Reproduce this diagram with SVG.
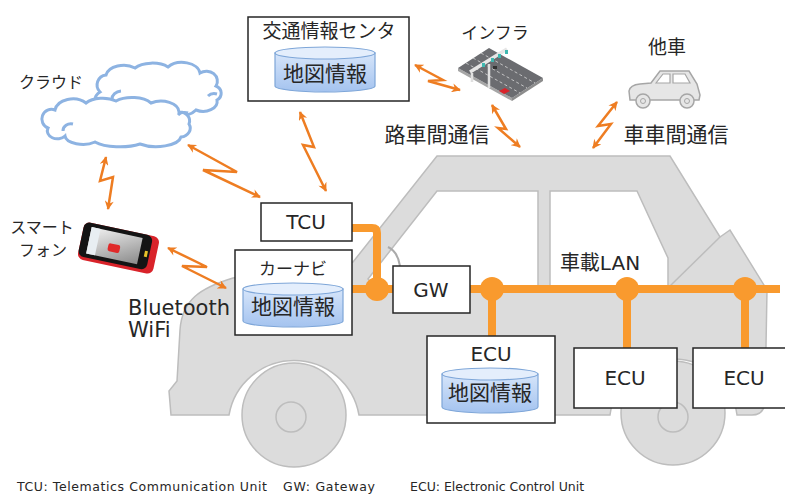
<svg xmlns="http://www.w3.org/2000/svg" width="785" height="497" viewBox="0 0 785 497">
  <defs>
    <style>
      text { font-family: "DejaVu Sans", "Noto Sans CJK JP", sans-serif; fill: #262626; }
      .mid { text-anchor: middle; }
      .box { fill: #ffffff; stroke: #262626; stroke-width: 1.5; }
      .body { fill: #dcdcdc; stroke: #bdbdbd; stroke-width: 1.5; }
      .win { fill: #ffffff; stroke: #bdbdbd; stroke-width: 1.5; }
      .cloud { fill: #ffffff; stroke: #8db3e2; stroke-width: 3; }
      .cloudline { fill: none; stroke: #8db3e2; stroke-width: 3; }
      .bolt { fill: none; stroke: #ee7d22; stroke-width: 2.5; stroke-linejoin: miter; marker-start: url(#bolt-head); marker-end: url(#bolt-head); }
      .lan { fill: none; stroke: #f99a2e; stroke-width: 8; }
      .node { fill: #f99a2e; }
      .cyl-body { fill: url(#cyl-grad); stroke: #7ea6d8; stroke-width: 1.2; }
      .cyl-top { fill: #e4eefc; stroke: #7ea6d8; stroke-width: 1.2; }
    </style>
    <linearGradient id="cyl-grad" x1="0" y1="0" x2="0" y2="1">
      <stop offset="0" stop-color="#d6e5fa"/>
      <stop offset="1" stop-color="#a4c3ef"/>
    </linearGradient>
    <linearGradient id="screen-grad" x1="0" y1="0" x2="1" y2="1">
      <stop offset="0" stop-color="#f4f4f4"/>
      <stop offset="1" stop-color="#8a8a8a"/>
    </linearGradient>
    <marker id="bolt-head" viewBox="0 0 10 10" refX="9" refY="5" markerWidth="10" markerHeight="9" markerUnits="userSpaceOnUse" orient="auto-start-reverse">
      <path d="M0,0 L10,5 L0,10 L3,5 Z" fill="#ee7d22"/>
    </marker>
  </defs>

  <!-- vehicle silhouette -->
  <g id="vehicle">
    <path class="body" d="M 171,415 L 169,391 L 177,381 L 180,330 C 182,300 200,288 233,278 L 353,262 L 437,156 L 670,156 L 720,237 L 730,230 L 767,290 L 765,402 Q 764,415 752,415 L 737,415 A 64,64 0 0 0 610,415 L 359,415 A 66,66 0 0 0 229,415 Z"/>
    <path class="win" d="M 437,191 L 538,191 L 538,289 L 378,289 L 368,279 Z"/>
    <path class="win" d="M 550,191 L 637,191 L 668,258 L 668,289 L 550,289 Z"/>
    <path d="M 669,287 L 720,237" fill="none" stroke="#bdbdbd" stroke-width="1.5"/>
    <path d="M 388,247 Q 398,252 400,266" fill="none" stroke="#aaaaaa" stroke-width="2"/>
    <circle class="body" cx="294" cy="415" r="52"/>
    <circle class="body" cx="291" cy="417" r="15"/>
    <circle class="body" cx="673" cy="413" r="52"/>
    <circle class="body" cx="673" cy="417" r="15"/>
  </g>

  <!-- cloud -->
  <g id="cloud">
    <path class="cloud" d="M 100,92 A 10,10 0 0 1 106,75 A 18,12 0 0 1 135,68 A 20,10 0 0 1 168,67 A 18,12 0 0 1 200,73 A 11,10 0 0 1 216,86 A 9,8 0 0 1 217,100 A 14,10 0 0 1 196,110 A 25,10 0 0 1 150,111 L 120,108 A 14,10 0 0 1 100,92 Z"/>
    <path class="cloud" d="M 48,128 A 9,9 0 0 1 55,110 A 18,13 0 0 1 86,103 A 20,11 0 0 1 116,101 A 22,11 0 0 1 151,103 A 18,11 0 0 1 179,112 A 10,9 0 0 1 189,124 A 11,9 0 0 1 181,137 A 25,11 0 0 1 140,144 A 30,11 0 0 1 95,142 A 18,9 0 0 1 65,136 A 10,8 0 0 1 48,128 Z"/>
    <path class="cloudline" d="M 112,99 A 10,8 0 0 1 121,91"/>
    <path class="cloudline" d="M 63,131 A 8,7 0 0 1 73,124"/>
    <path class="cloudline" d="M 178,115 A 8,6 0 0 1 188,113"/>
    <path class="cloudline" d="M 208,96 A 8,6 0 0 1 217,94"/>
    <text x="51" y="88" class="mid" font-size="16">クラウド</text>
  </g>

  <!-- traffic information center -->
  <g id="traffic-center">
    <rect class="box" x="248" y="17" width="161" height="84"/>
    <text x="329" y="38" class="mid" font-size="19">交通情報センタ</text>
    <path class="cyl-body" d="M 275,53 V 86 A 50,6 0 0 0 375,86 V 53 Z"/>
    <ellipse class="cyl-top" cx="325" cy="53" rx="50" ry="6"/>
    <text x="325" y="81" class="mid" font-size="21">地図情報</text>
  </g>

  <!-- roadside infrastructure -->
  <g id="infra">
    <text x="495" y="39" class="mid" font-size="17">インフラ</text>
    <path d="M 458,68 L 512,98 L 512,101 L 458,71 Z" fill="#a6a6a6"/>
    <path d="M 512,98 L 543,78 L 543,81 L 512,101 Z" fill="#8c8c8c"/>
    <path d="M 458,68 L 489,48 L 543,78 L 512,98 Z" fill="#6b6c70"/>
    <g stroke="#d9d9d9" stroke-width="0.8" stroke-dasharray="3 2.5">
      <path d="M 466,63 L 520,93"/>
      <path d="M 473,58 L 527,88"/>
      <path d="M 481,53 L 535,83"/>
    </g>
    <path d="M 470,72 L 507,49" stroke="#e6e6e6" stroke-width="3.5"/>
    <path d="M 472,73 L 472,82 M 489,64 L 489,88" stroke="#e0e0e0" stroke-width="2.5"/>
    <rect x="482" y="63" width="3" height="4" fill="#3fb8b0"/>
    <rect x="491" y="58" width="3" height="4" fill="#3fb8b0"/>
    <rect x="498" y="54" width="3" height="4" fill="#3fb8b0"/>
    <rect x="505" y="50" width="3" height="4" fill="#3fb8b0"/>
    <rect x="493" y="66" width="4" height="3" fill="#333333"/>
    <path d="M 499,91 L 505,88 L 510,91 L 504,94 Z" fill="#d9232a"/>
  </g>

  <!-- other vehicle -->
  <g id="other-car">
    <text x="667" y="54" class="mid" font-size="19">他車</text>
    <path d="M 630,100 L 629,91 Q 630,85 640,84 L 651,83 L 660,71 L 689,71 L 697,84 L 700,95 L 699,100 Z" fill="#e6e6e6" stroke="#a6a6a6" stroke-width="1.5"/>
    <path d="M 656,83 L 663,74 L 670,74 L 670,83 Z M 673,74 L 685,74 L 690,83 L 673,83 Z" fill="#ffffff" stroke="#a6a6a6" stroke-width="1.2"/>
    <circle cx="643" cy="101" r="7" fill="#e6e6e6" stroke="#a6a6a6" stroke-width="1.5"/>
    <circle cx="643" cy="101" r="2.5" fill="none" stroke="#a6a6a6" stroke-width="1"/>
    <circle cx="687" cy="101" r="7" fill="#e6e6e6" stroke="#a6a6a6" stroke-width="1.5"/>
    <circle cx="687" cy="101" r="2.5" fill="none" stroke="#a6a6a6" stroke-width="1"/>
  </g>

  <!-- smartphone -->
  <g id="smartphone">
    <text x="42" y="233" class="mid" font-size="16">スマート</text>
    <text x="43" y="256" class="mid" font-size="16">フォン</text>
    <g transform="rotate(12 118 248)">
      <rect x="80" y="229" width="77" height="38" rx="6" fill="#d9232a"/>
      <rect x="80" y="229" width="70" height="35" rx="6" fill="#141414"/>
      <rect x="88" y="233" width="52" height="27" fill="url(#screen-grad)"/>
      <rect x="88" y="233" width="9" height="27" fill="#e8eef2"/>
      <rect x="108" y="245" width="12" height="8" rx="2" fill="#e02a2a"/>
      <rect x="145" y="245" width="3" height="6" fill="#e8c22a"/>
    </g>
    <text x="128" y="315" font-size="21">Bluetooth</text>
    <text x="128" y="337" font-size="21">WiFi</text>
  </g>

  <!-- in-vehicle network -->
  <g id="connectors">
    <path class="lan" d="M 352,228 H 372 Q 377,228 377,233 V 289 M 352,289 H 393"/>
    <path class="lan" d="M 470,289 H 780"/>
    <path class="lan" stroke-width="7" d="M 492,289 V 336 M 627,289 V 348 M 745,289 V 348"/>
    <circle class="node" cx="377" cy="289" r="12"/>
    <circle class="node" cx="492" cy="289" r="12"/>
    <circle class="node" cx="627" cy="289" r="12"/>
    <circle class="node" cx="745" cy="289" r="12"/>
    <text x="600" y="270" class="mid" font-size="20">車載LAN</text>

    <!-- wireless links -->
    <path class="bolt" d="M 106,157 L 100,181 L 113,177 L 108,209"/>
    <path class="bolt" d="M 188,145 L 237,172 L 203,170 L 260,197"/>
    <path class="bolt" d="M 300,112 L 314,147 L 303,145 L 326,191"/>
    <path class="bolt" d="M 415,65 L 443,80 L 428,81 L 460,90"/>
    <path class="bolt" d="M 492,105 L 506,129 L 498,128 L 520,147"/>
    <path class="bolt" d="M 617,102 L 598,126 L 611,124 L 593,148"/>
    <path class="bolt" d="M 168,248 L 207,267 L 182,266 L 226,288"/>
    <text x="437" y="142" class="mid" font-size="21">路車間通信</text>
    <text x="676" y="142" class="mid" font-size="21">車車間通信</text>
  </g>

  <g id="tcu">
    <rect class="box" x="261" y="203" width="91" height="38"/>
    <text x="306" y="229" class="mid" font-size="20">TCU</text>
  </g>

  <g id="car-navi">
    <rect class="box" x="235" y="250" width="117" height="85"/>
    <text x="293" y="275" class="mid" font-size="17">カーナビ</text>
    <path class="cyl-body" d="M 243,289 V 321 A 50,6 0 0 0 343,321 V 289 Z"/>
    <ellipse class="cyl-top" cx="293" cy="289" rx="50" ry="6"/>
    <text x="293" y="314" class="mid" font-size="21">地図情報</text>
  </g>

  <g id="gw">
    <rect class="box" x="393" y="266" width="77" height="47"/>
    <text x="431" y="297" class="mid" font-size="20">GW</text>
  </g>

  <g id="ecu-map">
    <rect class="box" x="427" y="336" width="128" height="87"/>
    <text x="491" y="361" class="mid" font-size="20">ECU</text>
    <path class="cyl-body" d="M 442,374 V 407 A 48,6 0 0 0 538,407 V 374 Z"/>
    <ellipse class="cyl-top" cx="490" cy="374" rx="48" ry="6"/>
    <text x="490" y="400" class="mid" font-size="21">地図情報</text>
  </g>

  <g id="ecu-2">
    <rect class="box" x="574" y="348" width="103" height="60"/>
    <text x="625" y="385" class="mid" font-size="20">ECU</text>
  </g>

  <g id="ecu-3">
    <rect class="box" x="693" y="348" width="103" height="60"/>
    <text x="744" y="385" class="mid" font-size="20">ECU</text>
  </g>

  <!-- abbreviations -->
  <g id="legend">
    <text x="17" y="491" font-size="12.5" textLength="250" lengthAdjust="spacing">TCU: Telematics Communication Unit</text>
    <text x="283" y="491" font-size="12.5" textLength="92" lengthAdjust="spacing">GW: Gateway</text>
    <text x="410" y="491" font-size="12.5">ECU: Electronic Control Unit</text>
  </g>
</svg>
